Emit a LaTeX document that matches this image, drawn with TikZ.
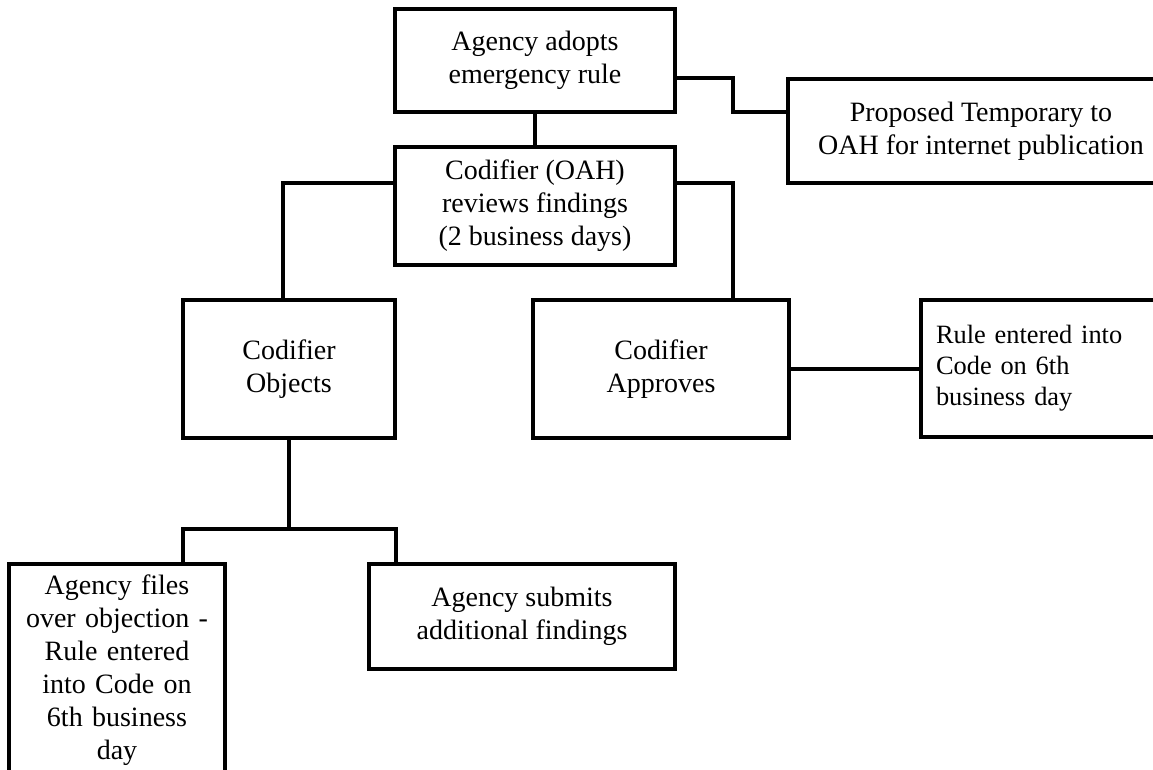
\documentclass[tikz,border=0pt]{standalone}
\usepackage{fontspec}
\setmainfont{Liberation Serif}
\usepackage{tikz}

\begin{document}
\begin{tikzpicture}[x=1pt,y=-1pt,line width=4pt,
  blk/.style={draw,line width=4pt,align=center,outer sep=0pt,inner sep=0pt,font=\fontsize{28}{33}\selectfont}]
  \useasboundingbox (0,0) rectangle (1153,769);
  \node [blk,minimum width=280,minimum height=103] (agency) at (535,60.5) {Agency adopts\\emergency rule};
  \node [blk,minimum width=280,minimum height=118] (codifier) at (535,206) {Codifier (OAH)\\reviews findings\\(2 business days)};
  \node [blk,minimum width=386,minimum height=104] (proposed) at (981,131) {Proposed Temporary to\\OAH for internet publication};
  \node [blk,minimum width=212,minimum height=138] (objects) at (289,369) {Codifier\\Objects};
  \node [blk,minimum width=256,minimum height=138] (approves) at (661,369) {Codifier\\Approves};
  \node [blk,anchor=west,align=left,text width=220,inner xsep=15,minimum height=137,font=\fontsize{26.4}{31}\selectfont] (rule) at (921,368.5) {Rule entered into\\Code on 6th\\business day};
  \node [blk,anchor=north,text width=194,inner sep=11] (files) at (117,564) {Agency files\\over objection -\\Rule entered\\into Code on\\6th business\\day};
  \node [blk,minimum width=306,minimum height=105] (submits) at (522,616.5) {Agency submits\\additional findings};

  \draw (agency.south) -- (codifier.north);
  \draw ([yshift=-17.5pt]agency.east) -- ++(58,0) |- ([yshift=19pt]proposed.west);
  \draw ([yshift=23pt]codifier.west) -| ([xshift=-6pt]objects.north);
  \draw ([yshift=23pt]codifier.east) -| ([xshift=72pt]approves.north);
  \draw (approves.east) -- (approves.east -| rule.west);
  \draw (objects.south) -- ++(0,91) coordinate (fork);
  \draw ([xshift=66pt]files.north) |- (fork) -| ([xshift=-126pt]submits.north);
\end{tikzpicture}
\end{document}
